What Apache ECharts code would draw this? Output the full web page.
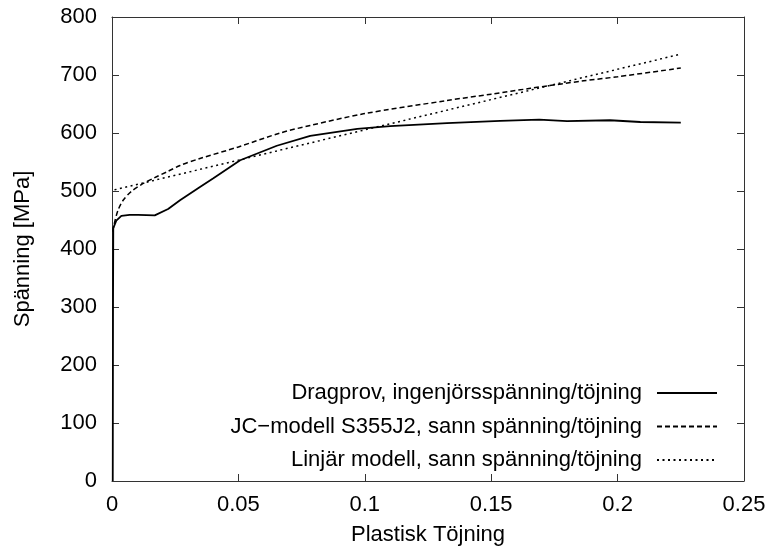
<!DOCTYPE html>
<html>
<head>
<meta charset="utf-8">
<script src="https://cdn.jsdelivr.net/npm/echarts@6/dist/echarts.min.js"></script>
<style>html,body{margin:0;padding:0;background:#fff}#c{width:774px;height:554px}</style>
</head>
<body>
<div id="c"></div>
<script>
var seriesNames = ['Dragprov, ingenjörsspänning/töjning', 'JC\u2212modell S355J2, sann spänning/töjning', 'Linjär modell, sann spänning/töjning'];
var xTitle = 'Plastisk Töjning';
var yTitle = 'Spänning [MPa]';

var dragStrain = [0.0003, 0.0004, 0.0005, 0.0017, 0.0037, 0.007, 0.0103, 0.0169, 0.0222, 0.0269, 0.0348, 0.0401, 0.0507, 0.0652, 0.0784, 0.097, 0.110, 0.1325, 0.1536, 0.169, 0.180, 0.197, 0.209, 0.225];
var dragStress = [0, 300, 436, 449, 457, 459, 459, 458, 469, 484, 507, 522, 553, 578, 595, 607, 612, 617, 621, 623, 620.5, 622, 619, 618];

var jcStrain = [0.0003, 0.0008, 0.0024, 0.0044, 0.0076, 0.0116, 0.0169, 0.0222, 0.0269, 0.0348, 0.05, 0.0665, 0.0784, 0.0994, 0.1325, 0.15, 0.1655, 0.1866, 0.2, 0.225];
var jcStress = [430, 442, 467, 484, 499, 511, 523, 534, 544, 556, 576, 600, 613, 633, 656, 667, 677, 690, 697, 712];

var linStrain = [0.001, 0.225];
var linStress = [502, 736];

function pairs(xs, ys) { return xs.map(function (x, i) { return [x, ys[i]]; }); }

var FONT = "'Liberation Sans', Arial, sans-serif";
var FS = 22;
var axisCol = '#333';

function xAx(pos, showLabel, name) {
  return {
    type: 'value', position: pos, min: 0, max: 0.25, interval: 0.05,
    name: name || '', nameLocation: 'middle', nameGap: 43,
    nameTextStyle: { fontFamily: FONT, fontSize: FS, color: '#000' },
    axisLine: { show: true, onZero: false, lineStyle: { color: axisCol, width: 1 } },
    axisTick: { show: true, inside: true, length: 7, lineStyle: { color: axisCol } },
    axisLabel: { show: showLabel, fontFamily: FONT, fontSize: FS, color: '#000', margin: 13 },
    splitLine: { show: false }
  };
}
function yAx(pos, showLabel, name) {
  return {
    type: 'value', position: pos, min: 0, max: 800, interval: 100,
    name: name || '', nameLocation: 'middle', nameGap: 78,
    nameTextStyle: { fontFamily: FONT, fontSize: FS, color: '#000' },
    axisLine: { show: true, onZero: false, lineStyle: { color: axisCol, width: 1 } },
    axisTick: { show: true, inside: true, length: 7, lineStyle: { color: axisCol } },
    axisLabel: { show: showLabel, fontFamily: FONT, fontSize: FS, color: '#000', margin: 15 },
    splitLine: { show: false }
  };
}

var chart = echarts.init(document.getElementById('c'), null, { renderer: 'canvas' });
chart.setOption({
  animation: false,
  backgroundColor: '#fff',
  grid: { left: 112, right: 30, top: 17, bottom: 73, containLabel: false },
  xAxis: [xAx('bottom', true, xTitle), xAx('top', false)],
  yAxis: [yAx('left', true, yTitle), yAx('right', false)],
  legend: {
    orient: 'vertical', align: 'right', right: 56, top: 382, padding: 0,
    itemWidth: 60, itemHeight: 14, itemGap: 11.5,
    itemStyle: { opacity: 0 },
    textStyle: { fontFamily: FONT, fontSize: FS, color: '#000', lineHeight: 22, padding: [0, 10, 0, 0] },
    data: seriesNames
  },
  series: [
    { name: seriesNames[0], type: 'line', data: pairs(dragStrain, dragStress), showSymbol: false, symbol: 'none',
      lineStyle: { color: '#000', width: 1.8, type: 'solid' }, itemStyle: { color: '#000' } },
    { name: seriesNames[1], type: 'line', data: pairs(jcStrain, jcStress), showSymbol: false, symbol: 'none', smooth: 0.3,
      lineStyle: { color: '#000', width: 1.5, type: [5, 3] }, itemStyle: { color: '#000' } },
    { name: seriesNames[2], type: 'line', data: pairs(linStrain, linStress), showSymbol: false, symbol: 'none',
      lineStyle: { color: '#000', width: 1.5, type: [2, 3.5] }, itemStyle: { color: '#000' } }
  ]
});
</script>
</body>
</html>
